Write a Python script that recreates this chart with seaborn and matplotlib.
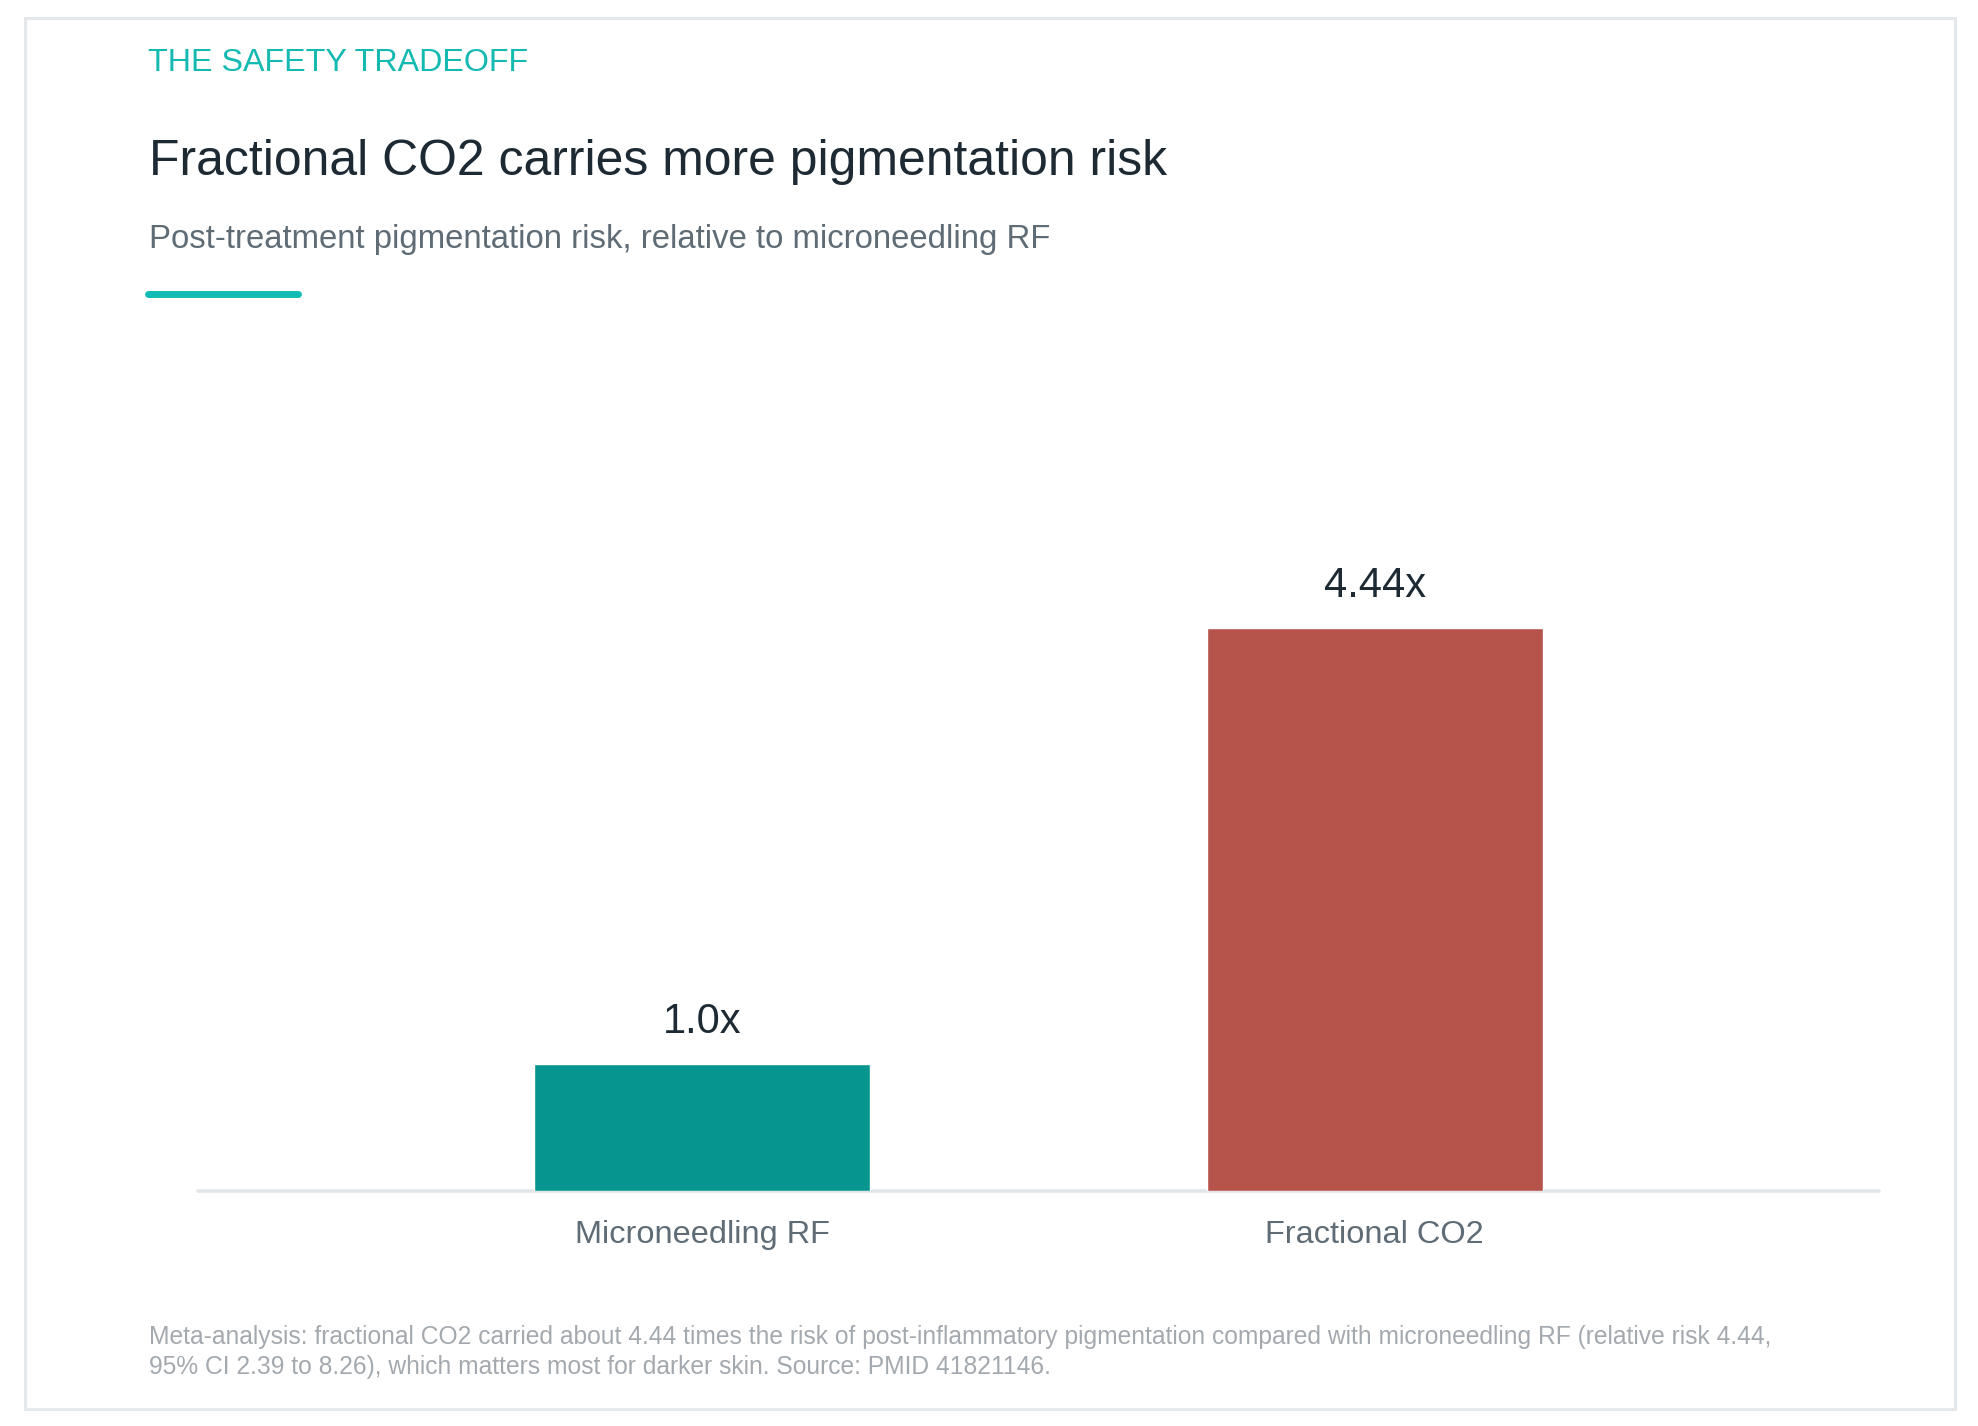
import matplotlib
matplotlib.use("Agg")
import matplotlib.pyplot as plt
import seaborn as sns
import pandas as pd
from matplotlib.patches import Rectangle
from matplotlib.lines import Line2D

# ---- data ----
categories = ["Microneedling RF", "Fractional CO2"]
relative_risk = [1.0, 4.44]
value_labels = ["1.0x", "4.44x"]
bar_colors = ["#07968f", "#b6544b"]

kicker = "THE SAFETY TRADEOFF"
title = "Fractional CO2 carries more pigmentation risk"
subtitle = "Post-treatment pigmentation risk, relative to microneedling RF"
foot_lines = [
    "Meta-analysis: fractional CO2 carried about 4.44 times the risk of post-inflammatory pigmentation compared with microneedling RF (relative risk 4.44,",
    "95% CI 2.39 to 8.26), which matters most for darker skin. Source: PMID 41821146.",
]

df = pd.DataFrame({"treatment": categories, "risk": relative_risk})

sns.set_theme(style="white")
plt.rcParams["font.family"] = ["Liberation Sans", "DejaVu Sans"]

W, H = 1978, 1426
fig = plt.figure(figsize=(W / 100, H / 100), dpi=100)
fig.patch.set_facecolor("white")

def fx(px):
    return px / W

def fy(py):
    return 1 - py / H

# outer card border
fig.patches.append(Rectangle((fx(24.5), fy(1408.5)), fx(1954.5) - fx(24.5), fy(17.5) - fy(1408.5),
                             transform=fig.transFigure, fill=False, edgecolor="#e5e8eb",
                             linewidth=2.2, zorder=0))

# header texts
fig.text(fx(148), fy(71), kicker, color="#14bab2", fontsize=23.2, va="baseline", ha="left")
fig.text(fx(149), fy(175), title, color="#1e2a33", fontsize=35.9, va="baseline", ha="left")
fig.text(fx(149), fy(248), subtitle, color="#5f6b75", fontsize=23.7, va="baseline", ha="left")
fig.lines.append(Line2D([fx(147.5), fx(297.5)], [fy(294), fy(294)], transform=fig.transFigure,
                        color="#12bcb4", linewidth=5, solid_capstyle="round"))

# chart
ax = fig.add_axes([fx(198), fy(1191), fx(1879) - fx(198), fy(557) - fy(1191)])
sns.barplot(data=df, x="treatment", y="risk", hue="treatment", palette=bar_colors,
            width=0.5, saturation=1, legend=False, ax=ax, zorder=3)
ax.set_xlim(-0.75, 1.75)
ax.set_ylim(0, 5)
ax.axhline(0, color="#e2e6e9", linewidth=2.6, zorder=2, clip_on=False)
for s in ax.spines.values():
    s.set_visible(False)
ax.set_yticks([])
ax.set_xlabel("")
ax.set_ylabel("")
ax.tick_params(axis="x", length=0, pad=21, labelsize=23.4, labelcolor="#5f6b75")
ax.set_facecolor("none")

for i, (v, lab) in enumerate(zip(relative_risk, value_labels)):
    ax.annotate(lab, (i, v), xytext=(0, 22.5), textcoords="offset points",
                ha="center", va="baseline", fontsize=30, color="#1e2a33")

# footnote
fig.text(fx(149), fy(1344), foot_lines[0], color="#a3a9ae", fontsize=17.7, va="baseline", ha="left")
fig.text(fx(149), fy(1374), foot_lines[1], color="#a3a9ae", fontsize=17.7, va="baseline", ha="left")

fig.savefig("out.png", dpi=100, facecolor="white")
